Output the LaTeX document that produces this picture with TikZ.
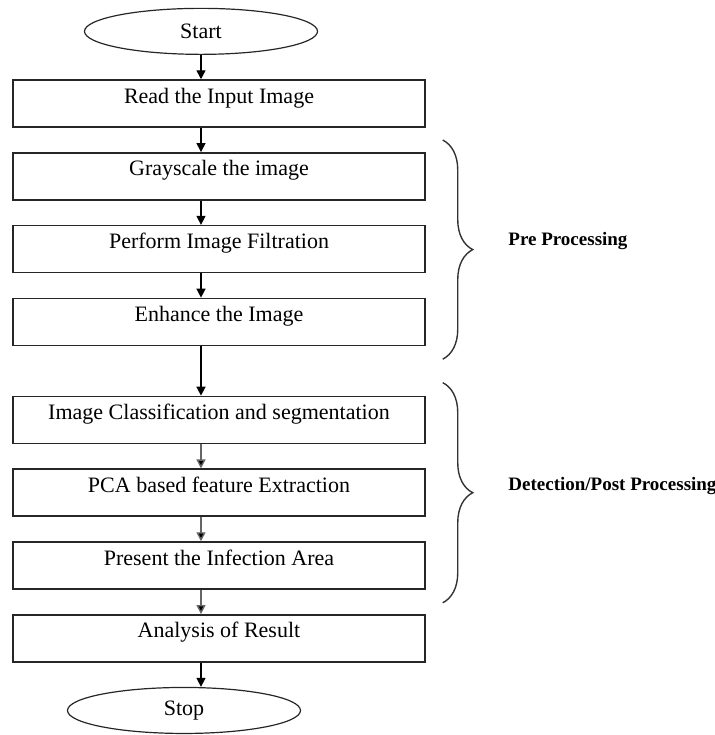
\documentclass[tikz,border=0pt]{standalone}
\usepackage{fontspec}
\setmainfont{Liberation Serif}
\usepackage{tikz}
\usetikzlibrary{arrows.meta,positioning,calc,shapes.geometric,decorations.pathreplacing}
\tikzset{
  stepbox/.style={draw=black!85, line width=0.75pt, minimum width=206pt, minimum height=23.5pt, inner ysep=0pt, text height=11.5pt, text depth=12pt, font=\fontsize{11}{13}\selectfont},
  termnode/.style={ellipse, draw=black!85, line width=0.6pt, minimum width=116.5pt, minimum height=23pt, inner sep=0pt, font=\fontsize{11}{13}\selectfont},
  arr/.style={-{Triangle[length=4.5pt,width=4.5pt]}, line width=0.7pt},
  garr/.style={arr, draw=black!60, -{Triangle[length=4.5pt,width=4.5pt,fill=black]}},
  brc/.style={decorate, decoration={brace, amplitude=15pt, aspect=0.5}, line width=0.7pt, draw=black!80},
  grouplbl/.style={anchor=west, font=\fontsize{9.5}{11}\selectfont\bfseries, inner sep=0pt}
}
\begin{document}
\begin{tikzpicture}[x=0.5pt, y=-0.5pt, node distance=12.15pt]
\useasboundingbox (0,0) rectangle (715,735);
\node[stepbox] (read) at (219,103.5) {Read the Input Image};
\node[termnode, above=12.15pt of read, xshift=-9pt] (start) {Start};
\coordinate (spine) at (start.center);
\node[stepbox, below=of read] (gray) {Grayscale the image};
\node[stepbox, below=of gray] (filt) {Perform Image Filtration};
\node[stepbox, below=of filt] (enh) {Enhance the Image};
\node[stepbox, below=24.75pt of enh] (cls) {Image Classification and segmentation};
\node[stepbox, below=of cls] (pca) {PCA based feature Extraction};
\node[stepbox, below=of pca] (inf) {Present the Infection Area};
\node[stepbox, below=of inf] (res) {Analysis of Result};
\node[termnode, below=12.15pt of res, xshift=-17.5pt] (stop) {Stop};
% arrows down the spine
\draw[arr] (start.south -| spine) -- (read.north -| spine);
\draw[arr] (read.south -| spine) -- (gray.north -| spine);
\draw[arr] (gray.south -| spine) -- (filt.north -| spine);
\draw[arr] (filt.south -| spine) -- (enh.north -| spine);
\draw[arr] (enh.south -| spine) -- (cls.north -| spine);
\draw[garr] (cls.south -| spine) -- (pca.north -| spine);
\draw[garr] (pca.south -| spine) -- (inf.north -| spine);
\draw[garr] (inf.south -| spine) -- (res.north -| spine);
\draw[arr] (res.south -| spine) -- (stop.north -| spine);
% braces
\draw[brc] ($(gray.north east)+(17,-12)$) -- ($(enh.south east)+(17,13)$);
\draw[brc] ($(cls.north east)+(17,-13)$) -- ($(inf.south east)+(17,13)$);
\node[grouplbl] (pre) at (508,241) {Pre Processing};
\node[grouplbl] (post) at (508,486) {Detection/Post Processing};
\end{tikzpicture}
\end{document}
